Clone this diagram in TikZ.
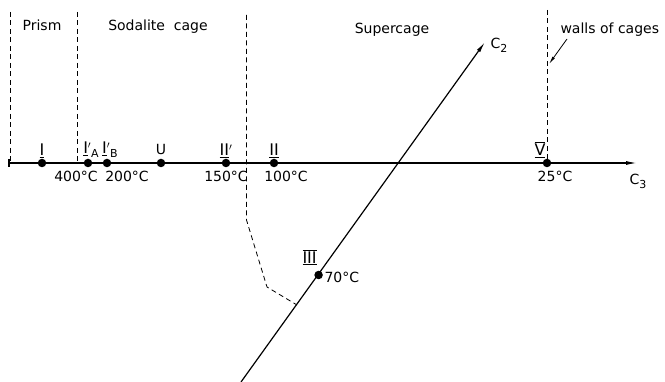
\documentclass[tikz,border=0pt]{standalone}
\usepackage{fontspec}
\setmainfont{DejaVu Sans}
\usetikzlibrary{arrows.meta,calc}
\tikzset{wall/.style = {dash pattern = on 5pt off 3.5pt, line width = 0.8pt},
         site/.style = {circle, fill, inner sep = 0pt, minimum size = 8.5pt},
         axis/.style = {line width = 1.2pt}}
\newcommand{\rom}[1]{$\underline{\hbox{\fontsize{16}{18}\selectfont #1}}$}
\newcommand{\romb}[1]{$\overline{\underline{\hbox{\fontsize{16}{18}\selectfont #1}}}$}
\newcommand{\sub}[1]{\raisebox{-4pt}{\fontsize{11}{13}\selectfont #1}}

\begin{document}
\begin{tikzpicture}[x = 1pt, y = -1pt, font = \fontsize{14}{16}\selectfont]
                \useasboundingbox (0,0) rectangle (665,382);
                % axes
                \coordinate(L) at (9,163);
                \coordinate(R) at (637,163);
                \coordinate(Bot) at (241,382);
                \coordinate(Top) at (485,42);
                \path[draw, axis] ($(L)+(0,-4)$) -- ($(L)+(0,4)$);
                \path[draw, axis, -{Latex[length = 11pt, width = 4pt]}] (L) -- (R);
                \path[draw, axis, -{Latex[length = 11pt, width = 4pt]}] (Bot) -- (Top);
                \node (c3) at (638,181) {C\sub{3}};
                \node (c2) at (499,45) {C\sub{2}};
                % walls of the cages
                \path[draw, wall] (10.5,12) -- (10.5,162);
                \path[draw, wall] (77.5,12) -- (77.5,163);
                \path[draw, wall] (246.5,15) -- (246.5,220) -- (267,287) -- (297,305);
                \path[draw, wall] (547.5,10) -- (547.5,163);
                \node (prism) at (42,25) {Prism};
                \node (soda) at (158,27) {Sodalite\ \ cage};
                \node (super) at (392,30) {Supercage};
                \node[anchor = west] (walls) at (557,30) {walls of cages};
                \path[draw, line width = 0.8pt, -{Latex[length = 8pt, width = 3pt]}] (567,39) -- (549,64);
                % cation sites
                \node[site, label = {[inner sep = 1pt]above:\rom{I}}] (s1) at (42,163) {};
                \node[site, label = {[xshift = 3pt, inner sep = 1pt]above:\rom{I}$^{\prime}$\sub{A}},
                      label = {[xshift = -12pt]below:400°C}] (s1a) at (88,163) {};
                \node[site, label = {[xshift = 3pt, inner sep = 1pt]above:\rom{I}$^{\prime}$\sub{B}},
                      label = {[xshift = 20pt]below:200°C}] (s1b) at (107,163) {};
                \node[site, label = {above:U}] (su) at (161,163) {};
                \node[site, label = {[inner sep = 1pt]above:\rom{II}$^{\prime}$}, label = {below:150°C}] (s2p) at (226,163) {};
                \node[site, label = {[inner sep = 1pt]above:\rom{II}}, label = {[xshift = 12pt]below:100°C}] (s2) at (274,163) {};
                \node[site, label = {[xshift = -7pt, inner sep = 1pt]above:\romb{V}}, label = {[xshift = 8pt]below:25°C}] (s5) at (547,163) {};
                \node[site, label = {[xshift = -9pt, yshift = 2pt]above:\romb{III}},
                      label = {[xshift = -2pt, yshift = -2pt]right:70°C}] (s3) at (318.6,275) {};
            \end{tikzpicture}
\end{document}
